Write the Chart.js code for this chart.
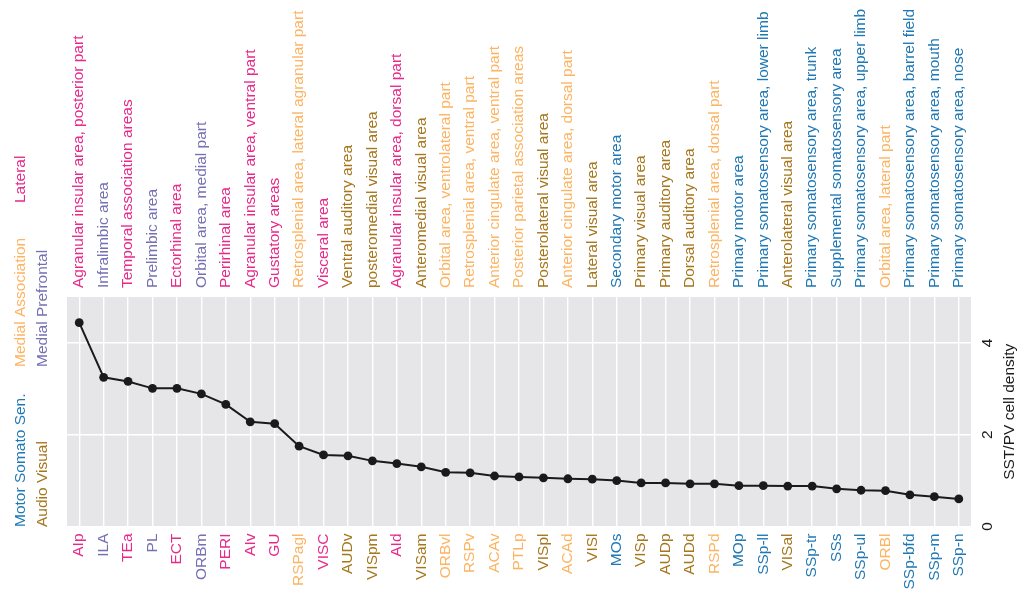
<!DOCTYPE html>
<html>
<head>
<meta charset="utf-8">
<script src="https://cdn.jsdelivr.net/npm/chart.js@4.4.1/dist/chart.umd.min.js"></script>
<style>
  html, body { margin: 0; padding: 0; background: #ffffff; }
  #wrap { width: 1018px; height: 593px; position: relative; }
</style>
</head>
<body>
<div id="wrap"><canvas id="chart" width="1018" height="593"></canvas></div>
<script>
// Cortical areas, ordered by SST/PV cell density (high to low)
const areaCodes = ['AIp','ILA','TEa','PL','ECT','ORBm','PERI','AIv','GU','RSPagl','VISC','AUDv','VISpm','AId','VISam','ORBvl','RSPv','ACAv','PTLp','VISpl','ACAd','VISl','MOs','VISp','AUDp','AUDd','RSPd','MOp','SSp-ll','VISal','SSp-tr','SSs','SSp-ul','ORBl','SSp-bfd','SSp-m','SSp-n'];

const areaNames = ['Agranular insular area, posterior part','Infralimbic area','Temporal association areas','Prelimbic area','Ectorhinal area','Orbital area, medial part','Perirhinal area','Agranular insular area, ventral part','Gustatory areas','Retrosplenial area, lateral agranular part','Visceral area','Ventral auditory area','posteromedial visual area','Agranular insular area, dorsal part','Anteromedial visual area','Orbital area, ventrolateral part','Retrosplenial area, ventral part','Anterior cingulate area, ventral part','Posterior parietal association areas','Posterolateral visual area','Anterior cingulate area, dorsal part','Lateral visual area','Secondary motor area','Primary visual area','Primary auditory area','Dorsal auditory area','Retrosplenial area, dorsal part','Primary motor area','Primary somatosensory area, lower limb','Anterolateral visual area','Primary somatosensory area, trunk','Supplemental somatosensory area','Primary somatosensory area, upper limb','Orbital area, lateral part','Primary somatosensory area, barrel field','Primary somatosensory area, mouth','Primary somatosensory area, nose'];

// Module of each area
const areaModules = ['Lateral','Medial Prefrontal','Lateral','Medial Prefrontal','Lateral','Medial Prefrontal','Lateral','Lateral','Lateral','Medial Association','Lateral','Audio Visual','Audio Visual','Lateral','Audio Visual','Medial Association','Medial Association','Medial Association','Medial Association','Audio Visual','Medial Association','Audio Visual','Motor Somato Sen.','Audio Visual','Audio Visual','Audio Visual','Medial Association','Motor Somato Sen.','Motor Somato Sen.','Audio Visual','Motor Somato Sen.','Motor Somato Sen.','Motor Somato Sen.','Medial Association','Motor Somato Sen.','Motor Somato Sen.','Motor Somato Sen.'];

// SST/PV cell density ratio per area
const densityRatio = [4.44,3.25,3.16,3.01,3.01,2.89,2.66,2.28,2.24,1.75,1.56,1.54,1.43,1.37,1.30,1.18,1.17,1.10,1.08,1.06,1.04,1.03,1.00,0.95,0.95,0.93,0.93,0.89,0.89,0.88,0.88,0.82,0.79,0.78,0.69,0.65,0.60];

const yTicks = [0, 2, 4];

const moduleColors = {
  'Motor Somato Sen.': '#1f78b4',
  'Audio Visual': '#a6761d',
  'Medial Association': '#fdb462',
  'Medial Prefrontal': '#7570b3',
  'Lateral': '#e7298a'
};

const FONT = '15.5px "Liberation Sans", Arial, sans-serif';

// Grey panel behind the plot
const panelBackground = {
  id: 'panelBackground',
  beforeDraw(chart) {
    const { ctx, chartArea: a } = chart;
    ctx.save();
    ctx.fillStyle = '#e6e6e8';
    ctx.fillRect(a.left, a.top, a.right - a.left, a.bottom - a.top);
    ctx.restore();
  }
};

// Rotated area labels, y-axis labels and module key
const rotatedText = {
  id: 'rotatedText',
  afterDraw(chart) {
    const { ctx } = chart;
    const xs = chart.scales.x;
    const ys = chart.scales.y;
    const put = (text, x, y, align, baseline, color) => {
      ctx.save();
      ctx.translate(x, y);
      ctx.rotate(-Math.PI / 2);
      ctx.font = FONT;
      ctx.fillStyle = color;
      ctx.textAlign = align;
      ctx.textBaseline = baseline;
      ctx.fillText(text, 0, 0);
      ctx.restore();
    };
    areaCodes.forEach((code, i) => {
      const x = xs.getPixelForValue(i);
      const col = moduleColors[areaModules[i]];
      put(code, x, ys.bottom + 7, 'right', 'middle', col);
      put(areaNames[i], x, ys.top - 9, 'left', 'middle', col);
    });
    // value axis on the right
    yTicks.forEach(v => {
      put(String(v), 991.5, ys.getPixelForValue(v), 'center', 'alphabetic', '#1a1a1a');
    });
    put('SST/PV cell density', 1013.5, (ys.top + ys.bottom) / 2, 'center', 'alphabetic', '#1a1a1a');
    // module key
    put('Motor Somato Sen.', 25, 527, 'left', 'alphabetic', moduleColors['Motor Somato Sen.']);
    put('Audio Visual', 46.5, 527, 'left', 'alphabetic', moduleColors['Audio Visual']);
    put('Medial Association', 25, 367, 'left', 'alphabetic', moduleColors['Medial Association']);
    put('Medial Prefrontal', 46.5, 367, 'left', 'alphabetic', moduleColors['Medial Prefrontal']);
    put('Lateral', 25, 203, 'left', 'alphabetic', moduleColors['Lateral']);
  }
};

new Chart(document.getElementById('chart'), {
  type: 'line',
  data: {
    labels: areaCodes,
    datasets: [{
      data: densityRatio,
      borderColor: '#1a1a1a',
      borderWidth: 2,
      backgroundColor: '#1a1a1a',
      pointBackgroundColor: '#1a1a1a',
      pointBorderWidth: 0,
      pointRadius: 4.4,
      tension: 0
    }]
  },
  options: {
    responsive: false,
    animation: false,
    devicePixelRatio: 1,
    layout: { padding: { left: 67, right: 47, top: 297, bottom: 66.5 } },
    plugins: { legend: { display: false }, tooltip: { enabled: false } },
    scales: {
      x: {
        type: 'category',
        offset: true,
        border: { display: false },
        grid: { color: '#ffffff', lineWidth: 1.4, offset: false, drawTicks: false },
        ticks: { display: false },
        afterFit(s) { s.height = 0; }
      },
      y: {
        position: 'right',
        min: 0,
        max: 5,
        border: { display: false },
        grid: { color: '#ffffff', lineWidth: 1.4, drawTicks: false },
        ticks: { display: false },
        afterBuildTicks(s) { s.ticks = yTicks.map(v => ({ value: v })); },
        afterFit(s) { s.width = 0; }
      }
    }
  },
  plugins: [panelBackground, rotatedText]
});
</script>
</body>
</html>
